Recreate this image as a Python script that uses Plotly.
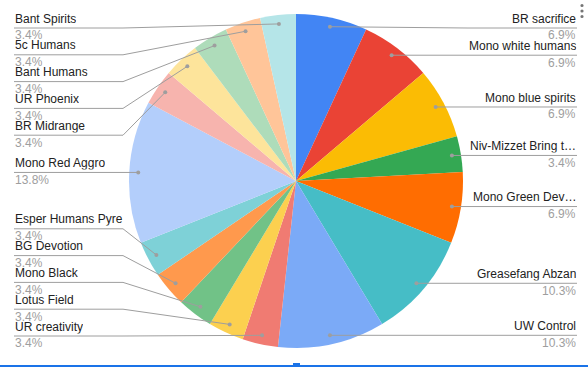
import math
import plotly.graph_objects as go

# ---- data ----
labels = ["BR sacrifice", "Mono white humans", "Mono blue spirits", "Niv-Mizzet Bring t…",
          "Mono Green Dev…", "Greasefang Abzan", "UW Control", "UR creativity",
          "Lotus Field", "Mono Black", "BG Devotion", "Esper Humans Pyre",
          "Mono Red Aggro", "BR Midrange", "UR Phoenix", "Bant Humans",
          "5c Humans", "Bant Spirits"]
values = [2, 2, 2, 1, 2, 3, 3, 1, 1, 1, 1, 1, 4, 1, 1, 1, 1, 1]
colors = ["#4285f4", "#ea4335", "#fbbc04", "#34a853", "#ff6d01", "#46bdc6",
          "#7baaf7", "#f07b72", "#fcd04f", "#71c287", "#ff994d", "#7ed1d7",
          "#b3cefb", "#f7b4ae", "#fde49b", "#aedcba", "#ffc599", "#b5e5e8"]

# ---- layout constants (pixels) ----
W, H = 588, 367
CX, CY, R = 296, 181, 167
RD = 158            # radius of leader dots
GAP = 26.8
TOP, BOTTOM = 28, 336
LEFT_X, LEFT_ELBOW = 14, 123
RIGHT_X, RIGHT_ELBOW = 577, 467
TEXT_H = 12.5
FONT = "Arial, Liberation Sans, sans-serif"


def px(x):
    return x / W


def py(y):
    return 1 - y / H


fig = go.Figure(go.Pie(
    labels=labels, values=values, sort=False, direction="clockwise", rotation=0,
    marker=dict(colors=colors, line=dict(width=0)),
    textinfo="none", hoverinfo="label+percent", showlegend=False,
    domain=dict(x=[px(CX - R), px(CX + R)], y=[py(CY + R), py(CY - R)]),
))

total = sum(values)
items = []
cum = 0
for lab, v in zip(labels, values):
    mid = (cum + v / 2) / total * 2 * math.pi
    cum += v
    dx = CX + RD * math.sin(mid)
    dy = CY - RD * math.cos(mid)
    items.append(dict(label=lab, pct=f"{v / total * 100:.1f}%", dx=dx, dy=dy,
                      side="right" if mid < math.pi else "left"))


def place(group):
    group.sort(key=lambda d: d["dy"])
    prev = -1e9
    for d in group:
        d["ly"] = max(d["dy"], prev + GAP, TOP)
        prev = d["ly"]
    nxt = 1e9
    for d in reversed(group):
        d["ly"] = min(d["ly"], nxt - GAP, BOTTOM)
        nxt = d["ly"]


shapes = []
annotations = []
for side in ("left", "right"):
    grp = [d for d in items if d["side"] == side]
    place(grp)
    for d in grp:
        ly = d["ly"]
        if side == "left":
            path = f"M {px(LEFT_X)} {py(ly)} L {px(LEFT_ELBOW)} {py(ly)} L {px(d['dx'])} {py(d['dy'])}"
            ax, xa = px(LEFT_X), "left"
        else:
            path = f"M {px(d['dx'])} {py(d['dy'])} L {px(RIGHT_ELBOW)} {py(ly)} L {px(RIGHT_X)} {py(ly)}"
            ax, xa = px(RIGHT_X), "right"
        shapes.append(dict(type="path", path=path, xref="paper", yref="paper",
                           line=dict(color="#9e9e9e", width=1)))
        shapes.append(dict(type="circle", xref="paper", yref="paper",
                           x0=px(d["dx"] - 2), x1=px(d["dx"] + 2),
                           y0=py(d["dy"] + 2), y1=py(d["dy"] - 2),
                           fillcolor="#9e9e9e", line=dict(width=0)))
        annotations.append(dict(x=ax, y=py(ly - 1.4), xref="paper", yref="paper",
                                xanchor=xa, yanchor="bottom", text=d["label"],
                                showarrow=False, borderpad=0, height=TEXT_H,
                                font=dict(family=FONT, size=12, color="#222222")))
        annotations.append(dict(x=ax, y=py(ly + 0.3), xref="paper", yref="paper",
                                xanchor=xa, yanchor="top", text=d["pct"],
                                showarrow=False, borderpad=0, height=TEXT_H,
                                font=dict(family=FONT, size=12, color="#9e9e9e")))

# menu dots (top right)
for yy in (5.5, 11, 16.5):
    shapes.append(dict(type="circle", xref="paper", yref="paper",
                       x0=px(582 - 1.6), x1=px(582 + 1.6), y0=py(yy + 1.6), y1=py(yy - 1.6),
                       fillcolor="#757575", line=dict(width=0)))
# bottom selection border
shapes.append(dict(type="line", xref="paper", yref="paper", x0=0, x1=1,
                   y0=py(366), y1=py(366), line=dict(color="#1a73e8", width=2)))
shapes.append(dict(type="rect", xref="paper", yref="paper", x0=px(293), x1=px(300),
                   y0=py(367), y1=py(363), fillcolor="#1a73e8", line=dict(width=0)))

fig.update_layout(width=W, height=H, margin=dict(l=0, r=0, t=0, b=0),
                  paper_bgcolor="white", plot_bgcolor="white",
                  shapes=shapes, annotations=annotations,
                  font=dict(family=FONT))
fig.write_html("out.html", config={"displayModeBar": False},
               post_script="document.body.style.margin='0';document.body.style.padding='0';"
                           "document.body.style.overflow='hidden';")
